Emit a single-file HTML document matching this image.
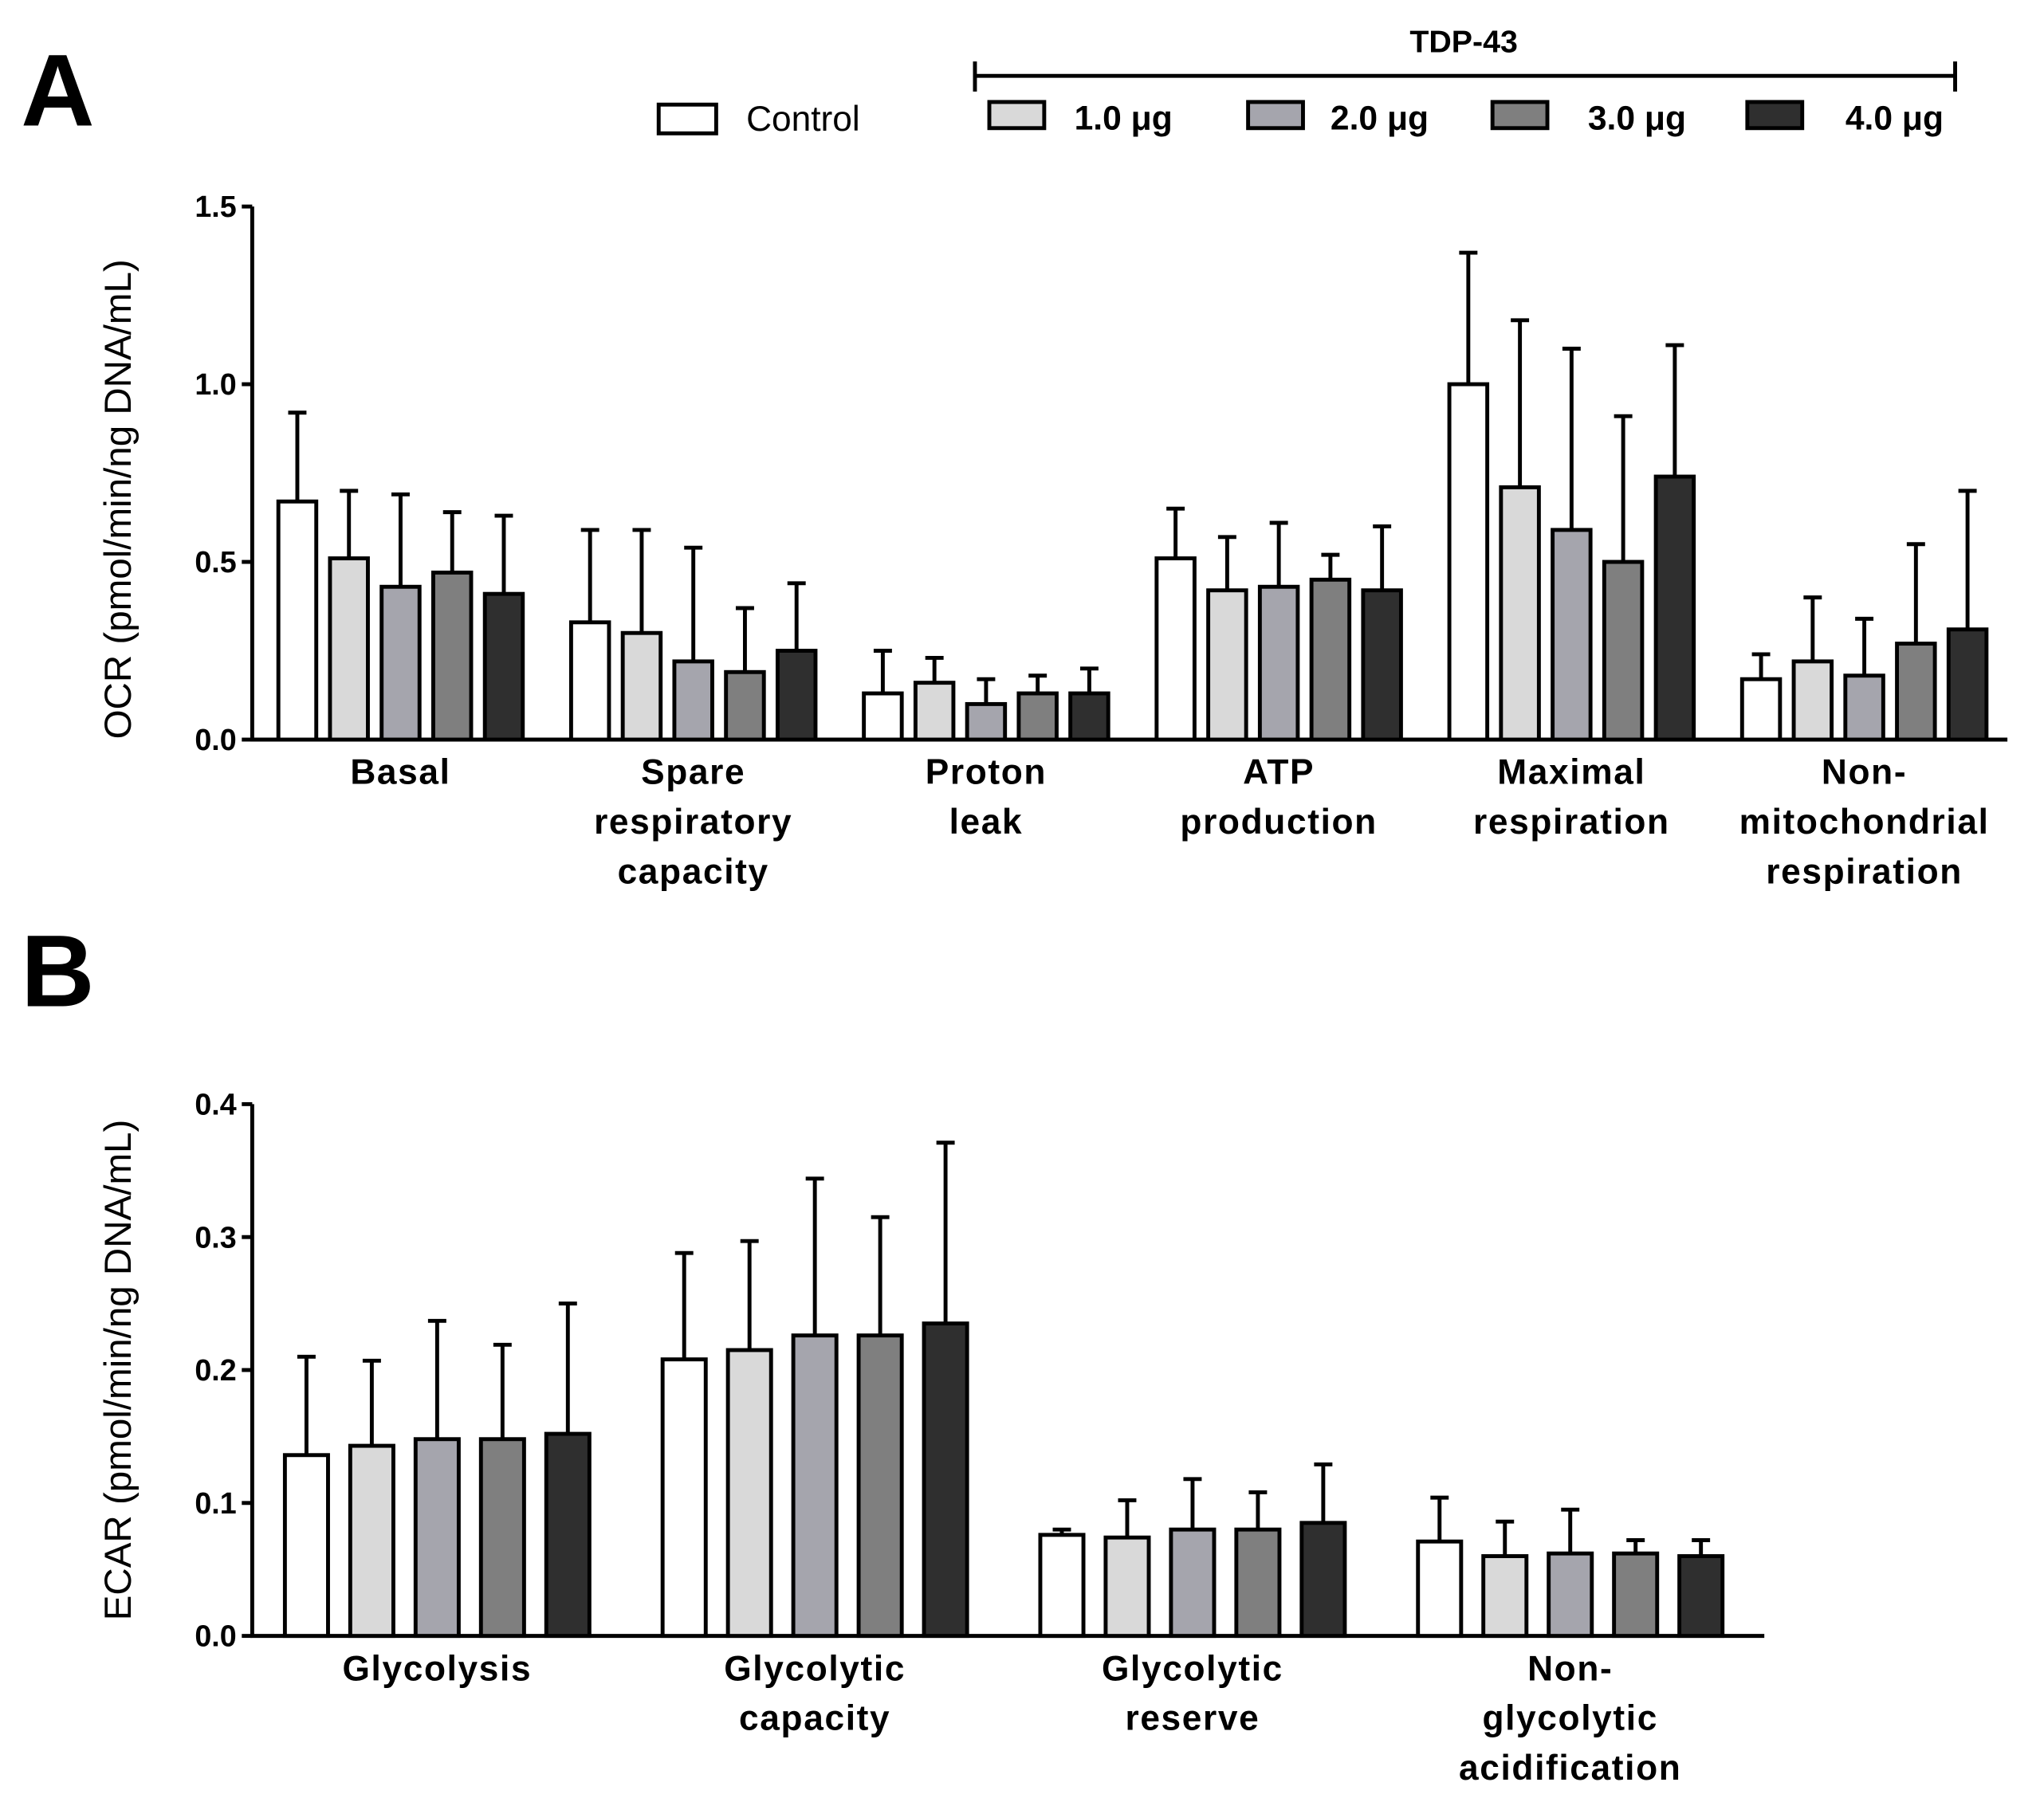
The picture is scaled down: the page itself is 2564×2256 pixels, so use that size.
<!DOCTYPE html>
<html><head><meta charset="utf-8">
<style>
html,body{margin:0;padding:0;background:#fff;}
svg{display:block;}
text{font-family:"Liberation Sans",sans-serif;}
</style></head>
<body>
<svg id="chart" width="2564" height="2256" viewBox="0 0 1564 1376" xmlns="http://www.w3.org/2000/svg">
<rect x="0" y="0" width="1564" height="1376" fill="#fff"/>
<text x="16" y="96" font-size="78" font-weight="bold">A</text>
<text x="16" y="770" font-size="78" font-weight="bold">B</text>
<g>
  <text x="1120" y="40" font-size="24" font-weight="bold" text-anchor="middle">TDP-43</text>
  <path d="M746 47 V70 M746 58 H1496 M1496 47 V70" stroke="#000" stroke-width="3" fill="none"/>
  <g><rect x="504" y="80" width="44" height="22" fill="#fff" stroke="#000" stroke-width="3"/><text x="571" y="100" font-size="27">Control</text></g>
  <g><rect x="757" y="78" width="42" height="20" fill="#d9d9d9" stroke="#000" stroke-width="3"/><text x="822" y="99" font-size="26" font-weight="bold">1.0 μg</text></g>
  <g><rect x="955" y="78" width="42" height="20" fill="#a5a5ad" stroke="#000" stroke-width="3"/><text x="1018" y="99" font-size="26" font-weight="bold">2.0 μg</text></g>
  <g><rect x="1142" y="78" width="42" height="20" fill="#7f7f7f" stroke="#000" stroke-width="3"/><text x="1215" y="99" font-size="26" font-weight="bold">3.0 μg</text></g>
  <g><rect x="1337" y="78" width="42" height="20" fill="#2f2f2f" stroke="#000" stroke-width="3"/><text x="1412" y="99" font-size="26" font-weight="bold">4.0 μg</text></g>
</g>
<g id="panelA"></g>
<g id="panelB"></g>
</svg>
<script>
const fills = ["#ffffff","#d9d9d9","#a5a5ad","#7f7f7f","#2f2f2f"];
const seriesNames = ["control","1ug","2ug","3ug","4ug"];

const catsA = [["Basal"],["Spare","respiratory","capacity"],["Proton","leak"],["ATP","production"],["Maximal","respiration"],["Non-","mitochondrial","respiration"]];
const meanA = [[0.67,0.51,0.43,0.47,0.41],[0.33,0.30,0.22,0.19,0.25],[0.13,0.16,0.10,0.13,0.13],[0.51,0.42,0.43,0.45,0.42],[1.00,0.71,0.59,0.50,0.74],[0.17,0.22,0.18,0.27,0.31]];
const errTopA = [[0.92,0.70,0.69,0.64,0.63],[0.59,0.59,0.54,0.37,0.44],[0.25,0.23,0.17,0.18,0.20],[0.65,0.57,0.61,0.52,0.60],[1.37,1.18,1.10,0.91,1.11],[0.24,0.40,0.34,0.55,0.70]];
const ticksA = ["0.0","0.5","1.0","1.5"];

const catsB = [["Glycolysis"],["Glycolytic","capacity"],["Glycolytic","reserve"],["Non-","glycolytic","acidification"]];
const meanB = [[0.136,0.143,0.148,0.148,0.152],[0.208,0.215,0.226,0.226,0.235],[0.076,0.074,0.080,0.080,0.085],[0.071,0.060,0.062,0.062,0.060]];
const errTopB = [[0.210,0.207,0.237,0.219,0.250],[0.288,0.297,0.344,0.315,0.371],[0.080,0.102,0.118,0.108,0.129],[0.104,0.086,0.095,0.072,0.072]];
const ticksB = ["0.0","0.1","0.2","0.3","0.4"];

const NS = "http://www.w3.org/2000/svg";
function mk(parent, tag, attrs, txt){
  const e = document.createElementNS(NS, tag);
  for (const k in attrs) e.setAttribute(k, attrs[k]);
  if (txt !== undefined) e.textContent = txt;
  parent.appendChild(e);
  return e;
}

function drawPanel(g, cfg, cats, means, tops, ticks, title, prefix){
  const y = v => cfg.y0 - (v / cfg.max) * (cfg.y0 - cfg.yTop);
  // axes
  const ax = mk(g, "path", {d:`M${cfg.x0} ${cfg.yTop} V${cfg.y0} H${cfg.xEnd}`, stroke:"#000","stroke-width":3, fill:"none"});
  
  
  ticks.forEach(t => {
    const ty = y(parseFloat(t));
    const tk = mk(g, "line", {x1:cfg.x0-8, x2:cfg.x0, y1:ty, y2:ty, stroke:"#000","stroke-width":3});
    
    
    const tl = mk(g, "text", {x:cfg.x0-12, y:ty+8, "font-size":23, "font-weight":"bold", "text-anchor":"end"}, t);
    
    
  });
  const yt = mk(g, "text", {x:0, y:0, "font-size":29, "text-anchor":"middle", transform:`translate(${cfg.titleX},${(cfg.yTop+cfg.y0)/2 + cfg.titleShift}) rotate(-90)`}, title);
  
  
  cats.forEach((lines, ci) => {
    const gx = cfg.start + ci * cfg.groupStep;
    means[ci].forEach((m, si) => {
      const bx = gx + si * cfg.barStep;
      const cx = bx + cfg.barW / 2;
      const eb = mk(g, "path", {d:`M${cx} ${y(m)} V${y(tops[ci][si])} M${cx-7} ${y(tops[ci][si])} H${cx+7}`, stroke:"#000","stroke-width":3, fill:"none"});
      
      
      const r = mk(g, "rect", {x:bx, y:y(m), width:cfg.barW, height:cfg.y0 - y(m), fill:fills[si], stroke:"#000", "stroke-width":3});
      
      
    });
    const cxg = gx + (4 * cfg.barStep + cfg.barW) / 2;
    lines.forEach((ln, li) => {
      const t = mk(g, "text", {x:cxg, y:cfg.y0 + 34 + li * 38, "font-size":27, "font-weight":"bold", "text-anchor":"middle", "letter-spacing":"1"}, ln);
      
      
    });
  });
}

drawPanel(document.getElementById("panelA"),
  {x0:193, xEnd:1536, yTop:158, y0:566, max:1.5, start:213, groupStep:224, barStep:39.5, barW:29, titleX:100, titleShift:20},
  catsA, meanA, errTopA, ticksA, "OCR (pmol/min/ng DNA/mL)", "ocr");
drawPanel(document.getElementById("panelB"),
  {x0:193, xEnd:1350, yTop:845, y0:1252, max:0.4, start:218, groupStep:289, barStep:50, barW:33, titleX:100, titleShift:0},
  catsB, meanB, errTopB, ticksB, "ECAR (pmol/min/ng DNA/mL)", "ecar");
</script>
</body></html>
